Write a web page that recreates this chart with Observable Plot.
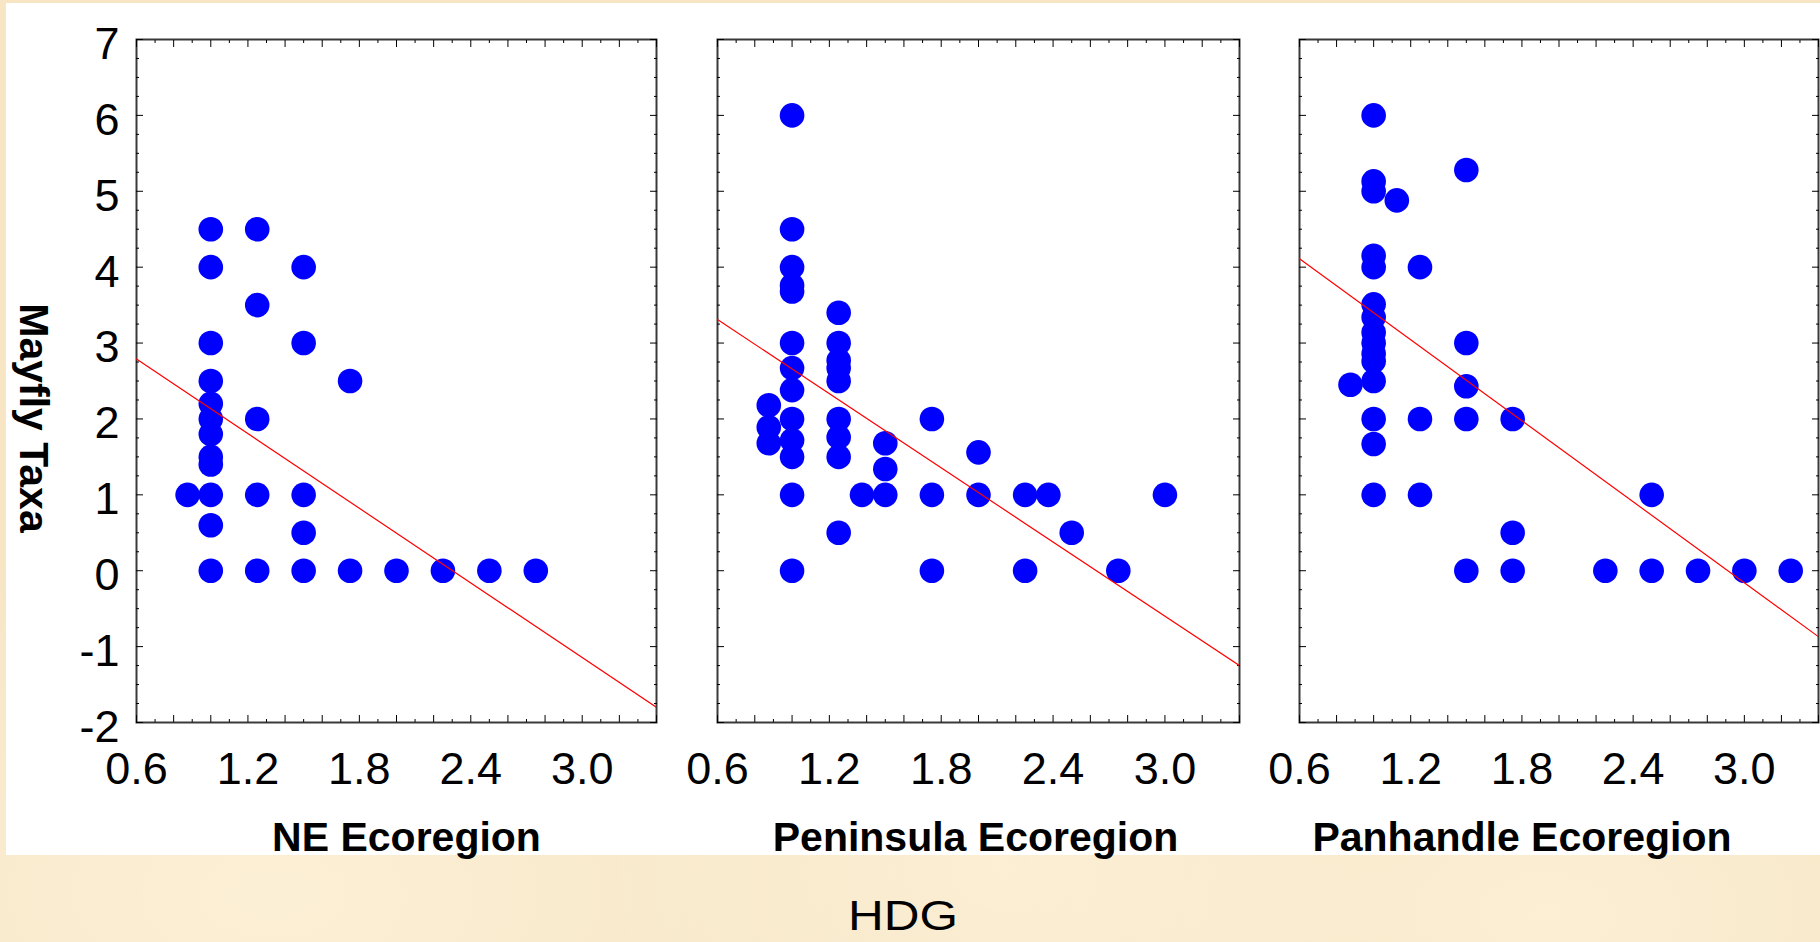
<!DOCTYPE html>
<html>
<head>
<meta charset="utf-8">
<script src="https://cdn.jsdelivr.net/npm/d3@7"></script>
<script src="https://cdn.jsdelivr.net/npm/@observablehq/plot@0.6"></script>
<style>
  html, body { margin: 0; padding: 0; }
  body {
    width: 1820px; height: 942px; position: relative; overflow: hidden;
    background-color: #f7e5c4;
    background-image:
      radial-gradient(ellipse at 15% 95%, rgba(255,248,228,0.55) 0, rgba(255,248,228,0) 30%),
      radial-gradient(ellipse at 55% 92%, rgba(255,248,228,0.5) 0, rgba(255,248,228,0) 28%),
      radial-gradient(ellipse at 85% 97%, rgba(255,248,228,0.5) 0, rgba(255,248,228,0) 25%);
    font-family: "Liberation Sans", Arial, Helvetica, sans-serif;
  }
  #sheet { position: absolute; left: 6px; top: 3px; width: 1814px; height: 852px; background: #ffffff; }
  .panel { position: absolute; top: 0; }
  #hdg {
    position: absolute; left: 903px; top: 894px; font-size: 43px; line-height: 43px;
    transform: translateX(-50%) scaleX(1.15); white-space: nowrap; color: #000;
  }
</style>
</head>
<body>
<div id="sheet"></div>
<div id="p1" class="panel" style="left:0px"></div>
<div id="p2" class="panel" style="left:700px"></div>
<div id="p3" class="panel" style="left:1280px"></div>
<div id="hdg">HDG</div>
<script>
// ---------- axes ----------
const xDomain = [0.6, 3.4];
const yDomain = [-2, 7];
const xTickLabels = [0.6, 1.2, 1.8, 2.4, 3.0];
const yTickLabels = [-2, -1, 0, 1, 2, 3, 4, 5, 6, 7];
const xMajorTicks = [0.6, 0.8, 1.0, 1.2, 1.4, 1.6, 1.8, 2.0, 2.2, 2.4, 2.6, 2.8, 3.0, 3.2, 3.4];
const xMinorTicks = [0.7, 0.9, 1.1, 1.3, 1.5, 1.7, 1.9, 2.1, 2.3, 2.5, 2.7, 2.9, 3.1, 3.3];
const yMinorTicks = [-1.75, -1.5, -1.25, -0.75, -0.5, -0.25, 0.25, 0.5, 0.75, 1.25, 1.5, 1.75,
  2.25, 2.5, 2.75, 3.25, 3.5, 3.75, 4.25, 4.5, 4.75, 5.25, 5.5, 5.75, 6.25, 6.5, 6.75];
const yAxisTitle = "Mayfly Taxa";
const bottomTitle = "HDG";

// ---------- NE Ecoregion ----------
const neLabel = "NE Ecoregion";
const neX = [0.875,
  1, 1, 1, 1, 1, 1, 1, 1, 1, 1, 1, 1,
  1.25, 1.25, 1.25, 1.25, 1.25,
  1.5, 1.5, 1.5, 1.5, 1.5,
  1.75, 1.75,
  2.0, 2.25, 2.5, 2.75];
const neY = [1,
  4.5, 4.0, 3.0, 2.5, 2.2, 2.0, 1.8, 1.5, 1.4, 1.0, 0.6, 0,
  4.5, 3.5, 2.0, 1.0, 0,
  4.0, 3.0, 1.0, 0.5, 0,
  2.5, 0,
  0, 0, 0, 0];
const neFitY = [2.79, -1.80];   // fitted line at x = 0.6 and x = 3.4

// ---------- Peninsula Ecoregion ----------
const penLabel = "Peninsula Ecoregion";
const penX = [0.875, 0.875, 0.875,
  1, 1, 1, 1, 1, 1, 1, 1, 1, 1, 1, 1, 1,
  1.25, 1.25, 1.25, 1.25, 1.25, 1.25, 1.25, 1.25, 1.25,
  1.375,
  1.5, 1.5, 1.5,
  1.75, 1.75, 1.75,
  2.0, 2.0,
  2.25, 2.25,
  2.375, 2.5, 2.75, 3.0];
const penY = [2.18, 1.89, 1.68,
  6.0, 4.5, 4.0, 3.76, 3.68, 3.0, 2.67, 2.38, 2.0, 1.72, 1.5, 1.0, 0,
  3.4, 3.0, 2.77, 2.67, 2.5, 2.0, 1.76, 1.5, 0.5,
  1.0,
  1.68, 1.34, 1.0,
  2.0, 1.0, 0,
  1.56, 1.0,
  1.0, 0,
  1.0, 0.5, 0, 1.0];
const penFitY = [3.31, -1.25];

// ---------- Panhandle Ecoregion ----------
const panLabel = "Panhandle Ecoregion";
const panX = [0.875,
  1, 1, 1, 1, 1, 1, 1, 1, 1, 1, 1, 1, 1, 1, 1,
  1.125,
  1.25, 1.25, 1.25,
  1.5, 1.5, 1.5, 1.5, 1.5,
  1.75, 1.75, 1.75,
  2.25, 2.5, 2.5, 2.75, 3.0, 3.25];
const panY = [2.45,
  6.0, 5.13, 5.0, 4.15, 4.0, 3.51, 3.34, 3.14, 3.0, 2.86, 2.76, 2.5, 2.0, 1.67, 1.0,
  4.88,
  4.0, 2.0, 1.0,
  5.28, 3.0, 2.43, 2.0, 0,
  2.0, 0.5, 0,
  0, 1.0, 0, 0, 0, 0];
const panFitY = [4.11, -0.87];

const fitX = [0.6, 3.4];

const FONT = "Liberation Sans, Arial, Helvetica, sans-serif";

function panel({xs, ys, fitY, label, width, marginLeft, marginRight, labelDx, showY}) {
  const pts = xs.map((x, i) => ({x, y: ys[i]}));
  const fit = fitX.map((x, i) => ({x, y: fitY[i]}));
  const tickStyle = {stroke: "#000", strokeWidth: 1, fill: "none", label: null};
  const marks = [
    Plot.frame({stroke: "#3a3a3a", strokeWidth: 2}),
    Plot.axisX(xMajorTicks, {anchor: "bottom", tickSize: -7, ...tickStyle}),
    Plot.axisX(xMinorTicks, {anchor: "bottom", tickSize: -3, ...tickStyle}),
    Plot.axisX(xMajorTicks, {anchor: "top", tickSize: -7, ...tickStyle}),
    Plot.axisX(xMinorTicks, {anchor: "top", tickSize: -3, ...tickStyle}),
    Plot.axisY(yTickLabels, {anchor: "left", tickSize: -7, ...tickStyle}),
    Plot.axisY(yMinorTicks, {anchor: "left", tickSize: -3, ...tickStyle}),
    Plot.axisY(yTickLabels, {anchor: "right", tickSize: -7, ...tickStyle}),
    Plot.axisY(yMinorTicks, {anchor: "right", tickSize: -3, ...tickStyle}),
    Plot.axisX(xTickLabels, {anchor: "bottom", tickSize: 0, tickPadding: 30, fontSize: 45,
      tickFormat: d3.format(".1f"), fill: "#000", label: null}),
    Plot.dot(pts, {x: "x", y: "y", r: 12.3, fill: "#0000ff"}),
    Plot.line(fit, {x: "x", y: "y", stroke: "#ff0000", strokeWidth: 1.2, clip: true}),
    Plot.text([label], {frameAnchor: "bottom", text: d => d, lineAnchor: "bottom", dy: 128, dx: labelDx,
      fontSize: 41, fontWeight: "bold", fill: "#000"})
  ];
  if (showY) {
    marks.push(
      Plot.axisY(yTickLabels, {anchor: "left", tickSize: 0, tickPadding: 17, fontSize: 45, dy: 5,
        tickFormat: d => String(d), fill: "#000", label: null}),
      Plot.text([yAxisTitle], {frameAnchor: "left", text: d => d, rotate: 90, dx: -103, dy: 37,
        textAnchor: "middle", fontSize: 41, fontWeight: "bold", fill: "#000"})
    );
  }
  return Plot.plot({
    width, height: 942,
    marginLeft, marginRight, marginTop: 39, marginBottom: 220,
    x: {domain: xDomain},
    y: {domain: yDomain},
    style: {background: "transparent", color: "#000", fontFamily: FONT, overflow: "visible"},
    marks
  });
}

document.getElementById("p1").append(panel({
  xs: neX, ys: neY, fitY: neFitY, label: neLabel,
  width: 680, marginLeft: 136, marginRight: 24, labelDx: 10, showY: true
}));
document.getElementById("p2").append(panel({
  xs: penX, ys: penY, fitY: penFitY, label: penLabel,
  width: 550, marginLeft: 17, marginRight: 11, labelDx: -3, showY: false
}));
document.getElementById("p3").append(panel({
  xs: panX, ys: panY, fitY: panFitY, label: panLabel,
  width: 540, marginLeft: 19, marginRight: 2, labelDx: -37, showY: false
}));
document.getElementById("hdg").textContent = bottomTitle;
</script>
</body>
</html>
